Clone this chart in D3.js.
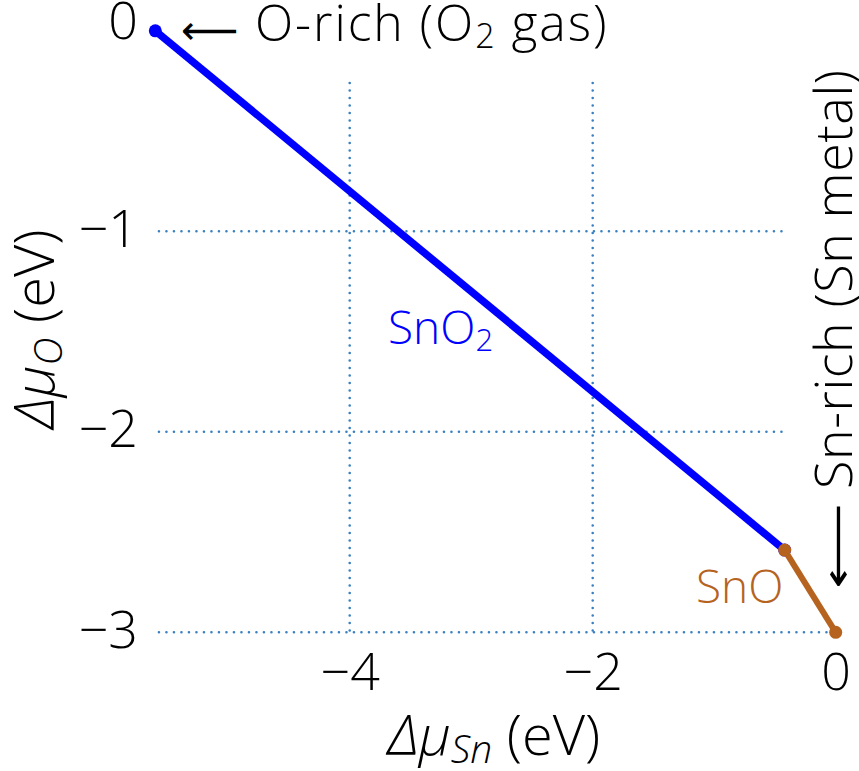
<!DOCTYPE html>
<html>
<head>
<meta charset="utf-8">
<script src="https://cdn.jsdelivr.net/npm/d3@7"></script>
<style>
    body { margin: 0; background: #fff; }
    svg { display: block; font-family: "Open Sans", Lato, sans-serif; font-weight: 300; }
    .arrow { font-family: "DejaVu Sans", sans-serif; font-weight: 400; }
</style>
</head>
<body>
<div class="main_content"></div>
<script>
// Chemical potential limits for Sn-O (eV)
const sno2Sn = [-5.6, -0.42];
const sno2O = [0, -2.59];
const snoSn = [-0.42, 0];
const snoO = [-2.59, -3.0];

const xTicks = [-4, -2, 0];
const yTicks = [0, -1, -2, -3];

// dotted guide lines (they don't span the whole frame in the original)
const hGridY = [-1, -2, -3];
const hGridEnd = [-0.44, -0.44, 0];
const hGridStart = -5.57;
const vGridX = [-4, -2];
const vGridTop = -0.26;

const blue = '#0000ff';
const brown = '#b5631f';
const gridColor = '#3a80c0';

const width = 859, height = 771;

const svg = d3.select('.main_content').append('svg')
    .attr('width', width)
    .attr('height', height);

let xScale = d3.scaleLinear()
    .domain([-4, 0])
    .range([349.7, 835.7]);

let yScale = d3.scaleLinear()
    .domain([0, -3])
    .range([30.8, 632.3]);

// Grid
let grid = svg.append('g').classed('grid', true);

grid.selectAll('line.h')
    .data(hGridY)
    .enter().append('line')
    .attr('class', 'h')
    .attr('x1', xScale(hGridStart))
    .attr('x2', (d, i) => xScale(hGridEnd[i]))
    .attr('y1', d => yScale(d))
    .attr('y2', d => yScale(d));

grid.selectAll('line.v')
    .data(vGridX)
    .enter().append('line')
    .attr('class', 'v')
    .attr('x1', d => xScale(d))
    .attr('x2', d => xScale(d))
    .attr('y1', yScale(vGridTop))
    .attr('y2', yScale(-3));

grid.selectAll('line')
    .attr('stroke', gridColor)
    .attr('stroke-width', 2.6)
    .attr('stroke-linecap', 'round')
    .attr('stroke-dasharray', '0 7.5');

// Axes (labels only)
let xAxis = d3.axisBottom(xScale)
    .tickValues(xTicks)
    .tickSize(0)
    .tickPadding(0)
    .tickFormat(d3.format('d'));

let gx = svg.append('g')
    .attr('transform', 'translate(0,653)')
    .call(xAxis);

let yAxis = d3.axisLeft(yScale)
    .tickValues(yTicks)
    .tickSize(0)
    .tickPadding(0)
    .tickFormat(d3.format('d'));

let gy = svg.append('g')
    .attr('transform', 'translate(138,0)')
    .call(yAxis);

[gx, gy].forEach(g => {
    g.select('.domain').remove();
    g.selectAll('text')
        .attr('fill', '#000')
        .style('font-family', '"Open Sans", sans-serif')
        .style('font-weight', 300)
        .style('font-size', '52px');
});
gx.selectAll('text').attr('dy', '0.71em');
gy.selectAll('text').attr('dy', d => d === 0 ? '0.14em' : '0.29em');

// Lines
let line = d3.line()
    .x(d => xScale(d[0]))
    .y(d => yScale(d[1]));

let sno2Pts = sno2Sn.map((d, i) => [d, sno2O[i]]);
let snoPts = snoSn.map((d, i) => [d, snoO[i]]);

svg.append('path')
    .datum(sno2Pts)
    .attr('d', line)
    .attr('fill', 'none')
    .attr('stroke', blue)
    .attr('stroke-width', 7.5);

svg.selectAll('circle.sno2')
    .data(sno2Pts)
    .enter().append('circle')
    .attr('class', 'sno2')
    .attr('cx', d => xScale(d[0]))
    .attr('cy', d => yScale(d[1]))
    .attr('r', 6.5)
    .attr('fill', blue);

svg.append('path')
    .datum(snoPts)
    .attr('d', line)
    .attr('fill', 'none')
    .attr('stroke', brown)
    .attr('stroke-width', 6);

svg.selectAll('circle.sno')
    .data(snoPts)
    .enter().append('circle')
    .attr('class', 'sno')
    .attr('cx', d => xScale(d[0]))
    .attr('cy', d => yScale(d[1]))
    .attr('r', 6.5)
    .attr('fill', brown);

// Text labels
function sub(text, s, size) {
    text.append('tspan').text(s)
        .attr('baseline-shift', '-22%')
        .style('font-size', size);
}

// O-rich limit
svg.append('text')
    .attr('class', 'arrow')
    .attr('x', 181)
    .attr('y', 44)
    .style('font-size', '40px')
    .text('\u27f5');

let t = svg.append('text')
    .attr('x', 255)
    .attr('y', 41)
    .style('font-size', '50px')
    .style('letter-spacing', '1.9px');
t.append('tspan').text('O-rich (O');
sub(t, '2', '34px');
t.append('tspan').text(' gas)');

// Sn-rich limit (arrow stretched along its length)
svg.append('text')
    .attr('class', 'arrow')
    .attr('transform', 'translate(851,589) rotate(-90) scale(1.5,1)')
    .style('font-size', '40px')
    .text('\u27f5');

svg.append('text')
    .attr('transform', 'translate(852,489) rotate(-90)')
    .style('font-size', '52px')
    .style('letter-spacing', '0.6px')
    .text('Sn-rich (Sn metal)');

// phase labels
t = svg.append('text')
    .attr('x', 388)
    .attr('y', 344)
    .attr('fill', blue)
    .style('font-size', '46px');
t.append('tspan').text('SnO');
sub(t, '2', '31px');

svg.append('text')
    .attr('x', 696)
    .attr('y', 603)
    .attr('fill', brown)
    .style('font-size', '46px')
    .text('SnO');

// Axis titles
t = svg.append('text')
    .attr('x', 494)
    .attr('y', 755)
    .attr('text-anchor', 'middle')
    .style('font-size', '56px');
t.append('tspan').text('\u0394\u03bc').style('font-style', 'italic');
t.append('tspan').text('Sn').style('font-style', 'italic')
    .attr('baseline-shift', '-20%').style('font-size', '39px');
t.append('tspan').text(' (eV)');

t = svg.append('text')
    .attr('transform', 'translate(54,329) rotate(-90)')
    .attr('text-anchor', 'middle')
    .style('font-size', '56px');
t.append('tspan').text('\u0394\u03bc').style('font-style', 'italic');
t.append('tspan').text('O').style('font-style', 'italic')
    .attr('baseline-shift', '-20%').style('font-size', '39px');
t.append('tspan').text(' (eV)');
</script>
</body>
</html>
